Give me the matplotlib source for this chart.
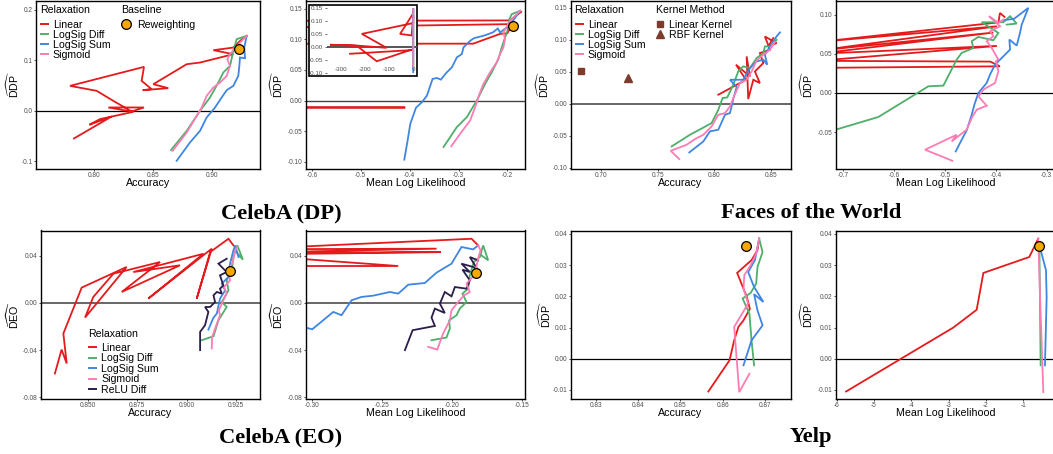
import matplotlib
matplotlib.use("Agg")
import matplotlib.pyplot as plt
from matplotlib.lines import Line2D
from matplotlib.legend import Legend
from matplotlib.patches import Rectangle

plt.rcParams['font.family'] = ['Liberation Sans', 'DejaVu Sans']
plt.rcParams['mathtext.fontset'] = 'custom'
plt.rcParams['mathtext.rm'] = 'Liberation Sans'
plt.rcParams['mathtext.it'] = 'Liberation Sans:italic'
plt.rcParams['mathtext.bf'] = 'Liberation Sans:bold'
plt.rcParams['axes.unicode_minus'] = False

RED = '#E41A1C'
GREEN = '#4DAF6A'
BLUE = '#3F86E3'
PINK = '#FF7BB4'
DARK = '#2C1D4D'
ORANGE = '#F5A800'
BROWN = '#7E3B2B'

# ---------------- CelebA (DP) : accuracy ----------------
dp_acc_linear_x = [0.7828, 0.8147, 0.7958, 0.8048, 0.8331, 0.8119, 0.8421, 0.8316, 0.8161, 0.8020,
                   0.7794, 0.8421, 0.8401, 0.8486, 0.8410, 0.8627, 0.8500, 0.8783, 0.8896, 0.9178,
                   0.9009, 0.9178, 0.9235, 0.9291]
dp_acc_linear_y = [-0.0546, -0.0112, -0.0276, -0.0164, -0.0020, 0.0066, 0.0066, -0.0013, 0.0197, 0.0395,
                   0.0493, 0.0868, 0.0592, 0.0428, 0.0408, 0.0447, 0.0526, 0.0921, 0.0954, 0.1119,
                   0.1198, 0.1250, 0.1382, 0.1481]
dp_acc_lsdiff_x = [0.8650, 0.8783, 0.8896, 0.8980, 0.9051, 0.9093, 0.9150, 0.9178, 0.9206, 0.9291]
dp_acc_lsdiff_y = [-0.0776, -0.0395, 0.0, 0.0263, 0.0559, 0.0757, 0.0888, 0.1184, 0.1415, 0.1481]
dp_acc_lssum_x = [0.8698, 0.8811, 0.8896, 0.8952, 0.9023, 0.9079, 0.9122, 0.9178, 0.9220, 0.9229,
                  0.9234, 0.9277, 0.9271, 0.9291]
dp_acc_lssum_y = [-0.0987, -0.0625, -0.0395, -0.0132, 0.0066, 0.0263, 0.0408, 0.0493, 0.0691, 0.0888,
                  0.1053, 0.1040, 0.1250, 0.1481]
dp_acc_sigmoid_x = [0.8664, 0.8783, 0.8910, 0.8952, 0.9009, 0.9065, 0.9122, 0.9150, 0.9127, 0.9150,
                    0.9235, 0.9291]
dp_acc_sigmoid_y = [-0.0790, -0.0428, 0.0066, 0.0296, 0.0461, 0.0559, 0.0691, 0.0888, 0.1020, 0.1119,
                    0.1349, 0.1481]
dp_acc_reweight = (0.9229, 0.1217)

# ---------------- CelebA (DP) : mean log likelihood ----------------
dp_mll_linear_x = [-0.172, -0.195, -30, -55, -7, -0.19, -0.20, -0.215, -0.27, -214, -111, -238, -346,
                   -235, -152, -7, -0.409, -263]
dp_mll_linear_y = [0.145, 0.131, 0.087, 0.051, 0.045, 0.125, 0.110, 0.109, 0.093, 0.051, -0.003, 0.006,
                   0.009, 0.005, -0.055, -0.010, -0.0114, -0.026]
dp_mll_lsdiff_x = [-0.3306, -0.3034, -0.2830, -0.2626, -0.2456, -0.2320, -0.2184, -0.2116, -0.2048,
                   -0.2000, -0.1959, -0.1912, -0.1741]
dp_mll_lsdiff_y = [-0.0760, -0.0434, -0.0272, 0.0, 0.0272, 0.0462, 0.0679, 0.0869, 0.1032, 0.1140,
                   0.1330, 0.1412, 0.1466]
dp_mll_lssum_x = [-0.4109, -0.4041, -0.3986, -0.3871, -0.3748, -0.3646, -0.3531, -0.3442, -0.3361,
                  -0.3259, -0.3136, -0.3034, -0.2932, -0.2898, -0.2762, -0.2680, -0.2490, -0.2299,
                  -0.2197, -0.2150, -0.2014, -0.1946, -0.1741]
dp_mll_lssum_y = [-0.0967, -0.0652, -0.0380, -0.0119, -0.0027, 0.0081, 0.0353, 0.0369, 0.0342, 0.0445,
                  0.0543, 0.0706, 0.0760, 0.0869, 0.0977, 0.1021, 0.1059, 0.1113, 0.1178, 0.1113,
                  0.1195, 0.1238, 0.1466]
dp_mll_sigmoid_x = [-0.3150, -0.2966, -0.2762, -0.2660, -0.2571, -0.2490, -0.2354, -0.2218, -0.2150,
                    -0.2082, -0.2048, -0.2082, -0.1946, -0.1741]
dp_mll_sigmoid_y = [-0.0749, -0.0543, -0.0326, -0.0109, 0.0109, 0.0272, 0.0462, 0.0624, 0.0760,
                    0.0869, 0.1005, 0.1113, 0.1303, 0.1466]
dp_mll_reweight = (-0.1878, 0.1211)

# ---------------- Faces of the World : accuracy ----------------
fw_acc_linear_x = [0.8035, 0.8197, 0.8279, 0.8191, 0.8314, 0.8285, 0.8299, 0.8344, 0.8402, 0.8358,
                   0.8432, 0.8402, 0.8491, 0.8446, 0.8549, 0.8476, 0.8520]
fw_acc_linear_y = [0.0141, 0.0297, 0.0375, 0.0610, 0.0427, 0.0740, 0.0073, 0.0375, 0.0323, 0.0505,
                   0.0636, 0.0792, 0.0844, 0.1052, 0.0948, 0.0896, 0.1026]
fw_acc_lsdiff_x = [0.7623, 0.7785, 0.7976, 0.8035, 0.8073, 0.8114, 0.8167, 0.8211, 0.8255, 0.8314,
                   0.8373, 0.8432, 0.8446, 0.8505, 0.8549]
fw_acc_lsdiff_y = [-0.0667, -0.0485, -0.0302, -0.0094, 0.0089, 0.0099, 0.0297, 0.0505, 0.0584, 0.0557,
                   0.0714, 0.0792, 0.0896, 0.0896, 0.1000]
fw_acc_lssum_x = [0.7779, 0.7903, 0.7961, 0.8035, 0.8094, 0.8138, 0.8173, 0.8197, 0.8138, 0.8255,
                  0.8314, 0.8373, 0.8432, 0.8467, 0.8446, 0.8491, 0.8549, 0.8579]
fw_acc_lssum_y = [-0.0761, -0.0589, -0.0432, -0.0406, -0.0172, -0.0146, 0.0115, 0.0260, 0.0375, 0.0375,
                  0.0557, 0.0662, 0.0688, 0.0610, 0.0766, 0.0896, 0.1052, 0.1115]
fw_acc_sigmoid_x = [0.7691, 0.7615, 0.7756, 0.7829, 0.7903, 0.7976, 0.8035, 0.8094, 0.8138, 0.8173,
                    0.8226, 0.8285, 0.8329, 0.8373, 0.8432, 0.8491, 0.8535, 0.8505]
fw_acc_sigmoid_y = [-0.0865, -0.0735, -0.0641, -0.0552, -0.0485, -0.0354, -0.0172, -0.0146, -0.0042,
                    0.0115, 0.0323, 0.0375, 0.0505, 0.0677, 0.0766, 0.0844, 0.0974, 0.0896]
fw_linear_kernel = (0.6821, 0.0516)
fw_rbf_kernel = (0.7241, 0.0401)

# ---------------- Faces of the World : mean log likelihood ----------------
fw_mll_linear_x = [-0.383, -0.392, -0.395, -0.75, -0.398, -0.75, -0.405, -0.75, -0.398, -0.75, -0.411,
                   -0.392, -0.75]
fw_mll_linear_y = [0.097, 0.102, 0.090, 0.065, 0.085, 0.054, 0.077, 0.050, 0.060, 0.041, 0.040, 0.034,
                   0.032]
fw_mll_lsdiff_x = [-0.7151, -0.6311, -0.5328, -0.5033, -0.4770, -0.4672, -0.4443, -0.4475, -0.4344,
                   -0.4049, -0.3951, -0.4279, -0.3852, -0.3721, -0.3590, -0.3787]
fw_mll_lsdiff_y = [-0.0468, -0.0306, 0.0085, 0.0094, 0.0426, 0.0511, 0.0574, 0.0660, 0.0715, 0.0672,
                   0.0766, 0.0902, 0.0902, 0.0979, 0.0885, 0.0872]
fw_mll_lssum_x = [-0.4790, -0.4672, -0.4574, -0.4475, -0.4423, -0.4344, -0.4180, -0.4115, -0.4016,
                  -0.3852, -0.3721, -0.3734, -0.3590, -0.3525, -0.3492, -0.3361, -0.3643, -0.3852]
fw_mll_lssum_y = [-0.0745, -0.0596, -0.0477, -0.0277, -0.0149, 0.0, 0.0128, 0.0234, 0.0362, 0.0468,
                  0.0553, 0.0681, 0.0604, 0.0766, 0.0872, 0.1085, 0.0945, 0.0928]
fw_mll_sigmoid_x = [-0.4856, -0.5393, -0.4770, -0.4869, -0.4574, -0.4475, -0.4377, -0.4180, -0.4344,
                    -0.4246, -0.4016, -0.3951, -0.3997, -0.3951, -0.4082, -0.4180, -0.4049, -0.4115,
                    -0.3918, -0.4134, -0.3951, -0.3852]
fw_mll_sigmoid_y = [-0.0864, -0.0723, -0.0532, -0.0617, -0.0468, -0.0319, -0.0213, -0.0162, -0.0043,
                    0.0043, 0.0128, 0.0277, 0.0404, 0.0426, 0.0574, 0.0660, 0.0723, 0.0787, 0.0851,
                    0.0979, 0.0894, 0.0936]

# ---------------- CelebA (EO) : accuracy ----------------
eo_acc_linear_x = [0.8332, 0.8366, 0.8392, 0.8375, 0.8468, 0.8696, 0.8485, 0.8527, 0.8629, 0.8866,
                   0.8671, 0.8967, 0.8730, 0.9086, 0.8806, 0.9128, 0.9052, 0.9120, 0.9213, 0.9238]
eo_acc_linear_y = [-0.0598, -0.0395, -0.0513, -0.0259, 0.0130, 0.0305, -0.0124, 0.0051, 0.0248, 0.0347,
                   0.0093, 0.0319, 0.0262, 0.0417, 0.0037, 0.0460, 0.0037, 0.0431, 0.0544, 0.0488]
eo_acc_lsdiff_x = [0.9077, 0.9137, 0.9162, 0.9204, 0.9179, 0.9213, 0.9204, 0.9230, 0.9238, 0.9258,
                   0.9286, 0.9246]
eo_acc_lsdiff_y = [-0.0316, -0.0282, -0.0147, -0.0034, 0.0008, 0.0107, 0.0192, 0.0276, 0.0389, 0.0488,
                   0.0367, 0.0446]
eo_acc_lssum_x = [0.9111, 0.9137, 0.9154, 0.9170, 0.9196, 0.9179, 0.9213, 0.9221, 0.9238, 0.9247,
                  0.9264]
eo_acc_lssum_y = [-0.0226, -0.0124, -0.0090, 0.0037, 0.0107, 0.0164, 0.0220, 0.0333, 0.0446, 0.0488,
                  0.0389]
eo_acc_sigmoid_x = [0.9128, 0.9130, 0.9145, 0.9170, 0.9164, 0.9187, 0.9204, 0.9191, 0.9221, 0.9213,
                    0.9235, 0.9247, 0.9258]
eo_acc_sigmoid_y = [-0.0386, -0.0288, -0.0217, -0.0104, -0.0062, 0.0023, 0.0079, 0.0135, 0.0192,
                    0.0276, 0.0347, 0.0446, 0.0474]
eo_acc_relu_x = [0.9069, 0.9069, 0.9094, 0.9111, 0.9094, 0.9120, 0.9145, 0.9137, 0.9154, 0.9179,
                 0.9170, 0.9187, 0.9170, 0.9204, 0.9162, 0.9204]
eo_acc_relu_y = [-0.0400, -0.0245, -0.0189, -0.0076, -0.0034, -0.0034, 0.0008, 0.0065, 0.0093, 0.0079,
                 0.0121, 0.0149, 0.0234, 0.0262, 0.0333, 0.0375]
eo_acc_reweight = (0.9220, 0.0271)

# ---------------- CelebA (EO) : mean log likelihood ----------------
eo_mll_linear_x = [-0.1815, -0.1862, -0.35, -0.2112, -0.35, -0.2083, -0.35, -0.2386, -0.35]
eo_mll_linear_y = [0.0488, 0.0544, 0.0455, 0.0460, 0.0425, 0.0431, 0.0410, 0.0313, 0.0313]
eo_mll_lsdiff_x = [-0.2148, -0.2041, -0.2017, -0.2022, -0.1969, -0.1946, -0.1898, -0.1927, -0.1886,
                   -0.1874, -0.1846, -0.1803, -0.1779, -0.1743, -0.1791]
eo_mll_lsdiff_y = [-0.0316, -0.0293, -0.0217, -0.0147, -0.0104, -0.0048, 0.0008, 0.0079, 0.0121,
                   0.0234, 0.0347, 0.0389, 0.0488, 0.0361, 0.0403]
eo_mll_lssum_x = [-0.3048, -0.3000, -0.2850, -0.2791, -0.2719, -0.2648, -0.2564, -0.2445, -0.2386,
                  -0.2314, -0.2196, -0.2112, -0.2005, -0.1934, -0.1850, -0.1815]
eo_mll_lssum_y = [-0.0209, -0.0223, -0.0076, -0.0104, 0.0023, 0.0051, 0.0062, 0.0093, 0.0079, 0.0155,
                  0.0169, 0.0257, 0.0333, 0.0474, 0.0454, 0.0488]
eo_mll_sigmoid_x = [-0.2172, -0.2107, -0.2065, -0.2017, -0.2005, -0.1958, -0.1915, -0.1874, -0.1898,
                    -0.1855, -0.1831, -0.1815, -0.1798, -0.1815]
eo_mll_sigmoid_y = [-0.0372, -0.0395, -0.0259, -0.0147, -0.0062, 0.0008, 0.0065, 0.0093, 0.0164,
                    0.0220, 0.0290, 0.0375, 0.0446, 0.0488]
eo_mll_relu_x = [-0.2338, -0.2283, -0.2124, -0.2148, -0.2124, -0.2053, -0.2088, -0.2053, -0.2005,
                 -0.1981, -0.1898, -0.1874, -0.1927, -0.1874, -0.1934, -0.1850, -0.1815, -0.1874,
                 -0.1815]
eo_mll_relu_y = [-0.0400, -0.0231, -0.0195, -0.0124, -0.0048, -0.0085, -0.0006, 0.0093, 0.0056, 0.0135,
                 0.0121, 0.0192, 0.0282, 0.0262, 0.0333, 0.0305, 0.0276, 0.0389, 0.0361]
eo_mll_reweight = (-0.1831, 0.0257)

# ---------------- Yelp : accuracy ----------------
yelp_acc_linear_x = [0.8566, 0.8616, 0.8627, 0.8637, 0.8649, 0.8664, 0.8657, 0.8634, 0.8668, 0.8682,
                     0.8686]
yelp_acc_linear_y = [-0.0105, -0.0005, 0.0059, 0.0102, 0.0123, 0.0160, 0.0198, 0.0275, 0.0316, 0.0348,
                     0.0385]
yelp_acc_lsdiff_x = [0.8674, 0.8668, 0.8663, 0.8647, 0.8666, 0.8679, 0.8682, 0.8694, 0.8686]
yelp_acc_lsdiff_y = [-0.0021, 0.0059, 0.0144, 0.0193, 0.0211, 0.0241, 0.0294, 0.0342, 0.0385]
yelp_acc_lssum_x = [0.8649, 0.8668, 0.8694, 0.8682, 0.8674, 0.8696, 0.8674, 0.8660, 0.8676, 0.8686]
yelp_acc_lssum_y = [-0.0021, 0.0059, 0.0107, 0.0155, 0.0207, 0.0182, 0.0230, 0.0278, 0.0316, 0.0385]
yelp_acc_sigmoid_x = [0.8663, 0.8639, 0.8627, 0.8660, 0.8649, 0.8651, 0.8666, 0.8679, 0.8686]
yelp_acc_sigmoid_y = [-0.0048, -0.0107, 0.0102, 0.0177, 0.0225, 0.0268, 0.0300, 0.0337, 0.0385]
yelp_acc_reweight = (0.8654, 0.0362)

# ---------------- Yelp : mean log likelihood ----------------
yelp_mll_linear_x = [-5.75, -2.875, -2.25, -2.07, -0.84, -0.60]
yelp_mll_linear_y = [-0.0105, 0.0100, 0.0157, 0.0275, 0.0326, 0.0385]
yelp_mll_lsdiff_x = [-0.571, -0.554, -0.536]
yelp_mll_lsdiff_y = [0.0370, 0.0190, -0.0021]
yelp_mll_lssum_x = [-0.571, -0.393, -0.375, -0.420]
yelp_mll_lssum_y = [0.0364, 0.0284, 0.0198, -0.0021]
yelp_mll_sigmoid_x = [-0.600, -0.536, -0.464]
yelp_mll_sigmoid_y = [0.0385, 0.0144, -0.0107]
yelp_mll_reweight = (-0.571, 0.0362)

relax_names = ['Linear', 'LogSig Diff', 'LogSig Sum', 'Sigmoid', 'ReLU Diff']
relax_colors = [RED, GREEN, BLUE, PINK, DARK]

W, H = 1053, 454
LEG_FS = 7.6
fig = plt.figure(figsize=(W / 100, H / 100), dpi=100)


def add_axes(l, t, r, b):
    return fig.add_axes([l / W, 1 - b / H, (r - l) / W, (b - t) / H])


def style(ax, box, xlim, ylim, xticks, xfmt, yticks, yfmt, xlabel, ylabel, ylab_px,
          zero_col='black', zero_lw=0.9):
    l, t, r, b = box
    ax.set_xlim(xlim)
    ax.set_ylim(ylim)
    ax.axhline(0, color=zero_col, lw=zero_lw, zorder=1)
    ax.set_xticks(xticks)
    ax.set_xticklabels([xfmt.format(v) for v in xticks])
    ax.set_yticks(yticks)
    ax.set_yticklabels([yfmt.format(v) for v in yticks])
    ax.tick_params(labelsize=4.7, colors='#333333', labelcolor='#4D4D4D', length=1.6, width=0.6, pad=0.8)
    for s in ax.spines.values():
        s.set_linewidth(1.0)
        s.set_color('black')
    ax.set_xlabel(xlabel, fontsize=7.7)
    ax.xaxis.set_label_coords(0.5, -14.5 / (b - t))
    ax.xaxis.label.set_va('center')
    ax.set_ylabel(ylabel, fontsize=7.7)
    ax.yaxis.set_label_coords((ylab_px - l) / (r - l), 0.5)
    ax.yaxis.label.set_va('center')


def draw_series(ax, series):
    for xs, ys, c in series:
        ax.plot(xs, ys, color=c, lw=1.3, solid_joinstyle='miter', zorder=2)


def draw_reweight(ax, pt):
    ax.plot([pt[0]], [pt[1]], 'o', ms=7, mfc=ORANGE, mec='black', mew=0.9, zorder=4)


def legend_block(ax, title, handles, names, tx, ty, lx, ly, hlen, hpad, lspace=0.0):
    # title drawn as text, entries as a title-less legend anchored below it
    fig.text(tx / W, 1 - ty / H, title, ha='left', va='center', fontsize=LEG_FS)
    leg = Legend(ax, handles, names, loc='upper left', bbox_to_anchor=(lx / W, 1 - ly / H),
                 bbox_transform=fig.transFigure, frameon=False, fontsize=LEG_FS,
                 handlelength=hlen, handletextpad=hpad, labelspacing=lspace, borderpad=0,
                 borderaxespad=0)
    ax.add_artist(leg)
    return leg


def relax_handles(n):
    return [Line2D([], [], color=c, lw=1.4) for c in relax_colors[:n]]


DDP = r'$\widehat{\mathrm{DDP}}$'
DEO = r'$\widehat{\mathrm{DEO}}$'

# panel 1: CelebA (DP) accuracy
box = (36, 0.5, 260, 169)
ax = add_axes(*box)
draw_series(ax, [(dp_acc_linear_x, dp_acc_linear_y, RED), (dp_acc_lsdiff_x, dp_acc_lsdiff_y, GREEN),
                 (dp_acc_lssum_x, dp_acc_lssum_y, BLUE), (dp_acc_sigmoid_x, dp_acc_sigmoid_y, PINK)])
draw_reweight(ax, dp_acc_reweight)
style(ax, box, (0.7506, 0.9404), (-0.115, 0.218), [0.80, 0.85, 0.90], '{:.2f}',
      [-0.1, 0.0, 0.1, 0.2], '{:.1f}', 'Accuracy', DDP, 13)
legend_block(ax, 'Relaxation', relax_handles(4), relax_names[:4], 40, 10, 40.7, 20, 0.65, 0.48)
legend_block(ax, 'Baseline',
             [Line2D([], [], ls='', marker='o', ms=7, mfc=ORANGE, mec='black', mew=0.9)], ['Reweighting'],
             121, 10, 121, 20, 0.9, 0.59)

# panel 2: CelebA (DP) mean log likelihood, with inset
box = (306, 0.5, 525, 169)
ax = add_axes(*box)
dp_mll = [(dp_mll_linear_x, dp_mll_linear_y, RED), (dp_mll_lsdiff_x, dp_mll_lsdiff_y, GREEN),
          (dp_mll_lssum_x, dp_mll_lssum_y, BLUE), (dp_mll_sigmoid_x, dp_mll_sigmoid_y, PINK)]
draw_series(ax, dp_mll)
draw_reweight(ax, dp_mll_reweight)
style(ax, box, (-0.612, -0.164), (-0.112, 0.1636), [-0.6, -0.5, -0.4, -0.3, -0.2], '{:.1f}',
      [-0.10, -0.05, 0.0, 0.05, 0.10, 0.15], '{:.2f}', 'Mean Log Likelihood', DDP, 277,
      zero_col='#444444', zero_lw=1.0)
ax.add_patch(Rectangle((309.3 / W, 1 - 76 / H), 108 / W, 71.3 / H, transform=fig.transFigure,
                       facecolor='white', edgecolor='black', lw=1.2, zorder=10, clip_on=False))
ins = add_axes(326.7, 4.7, 417.3, 76)
ins.set_zorder(11)
ins.patch.set_alpha(0)
draw_series(ins, dp_mll)
ins.axhline(0, color='#555555', lw=1.4, zorder=1)
ins.set_xlim(-360, 16.6)
ins.set_ylim(-0.112, 0.164)
ins.set_xticks([-300, -200, -100, 0])
ins.set_xticklabels(['-300', '-200', '-100', '0'])
ins.set_yticks([-0.10, -0.05, 0.0, 0.05, 0.10, 0.15])
ins.set_yticklabels(['{:.2f}'.format(v) for v in [-0.10, -0.05, 0.0, 0.05, 0.10, 0.15]])
ins.tick_params(labelsize=4.5, labelcolor='#4D4D4D', colors='#333333', width=0.5)
ins.tick_params(axis='x', length=0, pad=-6.2)
ins.tick_params(axis='y', length=1.5, pad=1)
for s in ins.spines.values():
    s.set_visible(False)

# panel 3: Faces of the World accuracy
box = (570.5, 0.5, 790.5, 169)
ax = add_axes(*box)
draw_series(ax, [(fw_acc_linear_x, fw_acc_linear_y, RED), (fw_acc_lsdiff_x, fw_acc_lsdiff_y, GREEN),
                 (fw_acc_lssum_x, fw_acc_lssum_y, BLUE), (fw_acc_sigmoid_x, fw_acc_sigmoid_y, PINK)])
ax.plot([fw_linear_kernel[0]], [fw_linear_kernel[1]], 's', ms=5, color=BROWN, zorder=4)
ax.plot([fw_rbf_kernel[0]], [fw_rbf_kernel[1]], '^', ms=6, color=BROWN, zorder=4)
style(ax, box, (0.6731, 0.8672), (-0.102, 0.1614), [0.70, 0.75, 0.80, 0.85], '{:.2f}',
      [-0.10, -0.05, 0.0, 0.05, 0.10, 0.15], '{:.2f}', 'Accuracy', DDP, 543,
      zero_col='#666666', zero_lw=1.4)
legend_block(ax, 'Relaxation', relax_handles(4), relax_names[:4], 574.3, 10, 576, 20, 0.65, 0.48)
legend_block(ax, 'Kernel Method',
             [Line2D([], [], ls='', marker='s', ms=5, color=BROWN),
              Line2D([], [], ls='', marker='^', ms=6, color=BROWN)], ['Linear Kernel', 'RBF Kernel'],
             656, 10, 655.2, 20, 0.9, 0.44)

# panel 4: Faces of the World mean log likelihood
box = (835.7, 0.5, 1055, 169)
ax = add_axes(*box)
draw_series(ax, [(fw_mll_linear_x, fw_mll_linear_y, RED), (fw_mll_lsdiff_x, fw_mll_lsdiff_y, GREEN),
                 (fw_mll_lssum_x, fw_mll_lssum_y, BLUE), (fw_mll_sigmoid_x, fw_mll_sigmoid_y, PINK)])
style(ax, box, (-0.715, -0.2837), (-0.0969, 0.1179), [-0.7, -0.6, -0.5, -0.4, -0.3], '{:.1f}',
      [-0.05, 0.0, 0.05, 0.10], '{:.2f}', 'Mean Log Likelihood', DDP, 807)

# panel 5: CelebA (EO) accuracy
box = (40.7, 230.5, 260, 399)
ax = add_axes(*box)
draw_series(ax, [(eo_acc_linear_x, eo_acc_linear_y, RED), (eo_acc_lsdiff_x, eo_acc_lsdiff_y, GREEN),
                 (eo_acc_lssum_x, eo_acc_lssum_y, BLUE), (eo_acc_sigmoid_x, eo_acc_sigmoid_y, PINK),
                 (eo_acc_relu_x, eo_acc_relu_y, DARK)])
draw_reweight(ax, eo_acc_reweight)
style(ax, box, (0.826, 0.9373), (-0.0814, 0.0614), [0.850, 0.875, 0.900, 0.925], '{:.3f}',
      [-0.08, -0.04, 0.0, 0.04], '{:.2f}', 'Accuracy', DEO, 13, zero_col='#666666', zero_lw=1.4)
legend_block(ax, 'Relaxation', relax_handles(5), relax_names, 88.3, 334, 89.3, 343, 0.65, 0.5, 0.04)

# panel 6: CelebA (EO) mean log likelihood
box = (305.7, 230.5, 525, 399)
ax = add_axes(*box)
draw_series(ax, [(eo_mll_linear_x, eo_mll_linear_y, RED), (eo_mll_lssum_x, eo_mll_lssum_y, BLUE),
                 (eo_mll_lsdiff_x, eo_mll_lsdiff_y, GREEN), (eo_mll_relu_x, eo_mll_relu_y, DARK),
                 (eo_mll_sigmoid_x, eo_mll_sigmoid_y, PINK)])
draw_reweight(ax, eo_mll_reweight)
style(ax, box, (-0.3047, -0.148), (-0.0814, 0.0614), [-0.30, -0.25, -0.20, -0.15], '{:.2f}',
      [-0.08, -0.04, 0.0, 0.04], '{:.2f}', 'Mean Log Likelihood', DEO, 277,
      zero_col='#666666', zero_lw=1.4)

# panel 7: Yelp accuracy
box = (570.7, 230.5, 790.5, 399)
ax = add_axes(*box)
draw_series(ax, [(yelp_acc_linear_x, yelp_acc_linear_y, RED), (yelp_acc_lsdiff_x, yelp_acc_lsdiff_y, GREEN),
                 (yelp_acc_lssum_x, yelp_acc_lssum_y, BLUE), (yelp_acc_sigmoid_x, yelp_acc_sigmoid_y, PINK)])
draw_reweight(ax, yelp_acc_reweight)
style(ax, box, (0.8241, 0.876), (-0.0129, 0.0411), [0.83, 0.84, 0.85, 0.86, 0.87], '{:.2f}',
      [-0.01, 0.0, 0.01, 0.02, 0.03, 0.04], '{:.2f}', 'Accuracy', DDP, 545)

# panel 8: Yelp mean log likelihood
box = (835.7, 230.5, 1055, 399)
ax = add_axes(*box)
draw_series(ax, [(yelp_mll_linear_x, yelp_mll_linear_y, RED), (yelp_mll_lsdiff_x, yelp_mll_lsdiff_y, GREEN),
                 (yelp_mll_lssum_x, yelp_mll_lssum_y, BLUE), (yelp_mll_sigmoid_x, yelp_mll_sigmoid_y, PINK)])
draw_reweight(ax, yelp_mll_reweight)
style(ax, box, (-6.027, -0.151), (-0.0129, 0.0411), [-6, -5, -4, -3, -2, -1], '{:d}',
      [-0.01, 0.0, 0.01, 0.02, 0.03, 0.04], '{:.2f}', 'Mean Log Likelihood', DDP, 807)

# dataset titles
for label, cx, cy in [('CelebA (DP)', 281, 213), ('Faces of the World', 811, 213),
                      ('CelebA (EO)', 281, 437), ('Yelp', 811, 437)]:
    fig.text(cx / W, 1 - cy / H, label, ha='center', va='center', fontsize=16.2,
             fontweight='bold', family=['Liberation Serif', 'DejaVu Serif'])

fig.savefig('out.png', dpi=100)
